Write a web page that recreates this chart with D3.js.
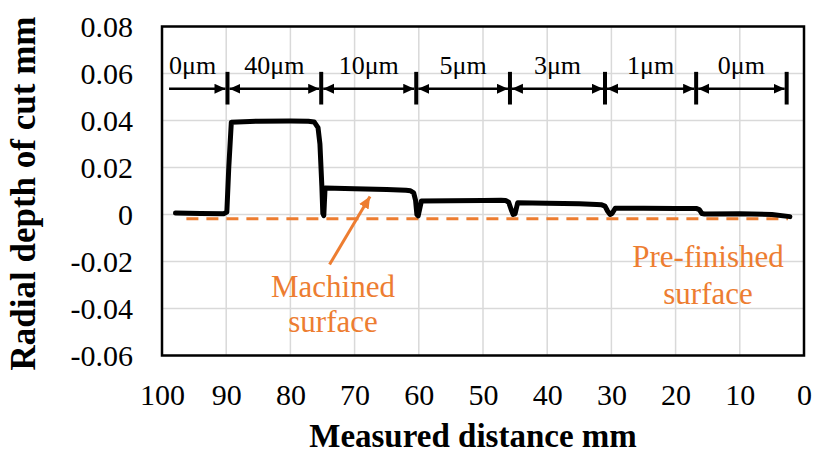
<!DOCTYPE html>
<html>
<head>
<meta charset="utf-8">
<script src="https://cdn.jsdelivr.net/npm/d3@7"></script>
<style>
  html, body { margin: 0; padding: 0; background: #fff; }
  svg { display: block; }
  text { font-family: "Liberation Serif", "Times New Roman", serif; }
</style>
</head>
<body>
<svg id="chart" width="814" height="453"></svg>
<script>
// ---- data ----
const xTicks = [100, 90, 80, 70, 60, 50, 40, 30, 20, 10, 0];
const yTicks = [-0.06, -0.04, -0.02, 0, 0.02, 0.04, 0.06, 0.08];
const yTickLabels = ["-0.06", "-0.04", "-0.02", "0", "0.02", "0.04", "0.06", "0.08"];

const distance = [97.9, 94, 90.4, 89.9, 89.6, 89.2, 85, 80, 77.2, 76.3, 75.7, 75.4, 75.1, 74.95, 74.8, 74.6,
  70, 65, 62, 61.3, 60.8, 60.5, 60.3, 60.1, 59.6, 55, 50, 47.2, 46.5, 46.0, 45.6, 45.3, 45.0, 44.6,
  40, 35, 32.3, 31.6, 31.0, 30.6, 30.2, 29.9, 29.4, 25, 20, 16.8, 16.3, 15.9, 15.5, 10, 5, 2.2];
const depth = [0.0006, 0.0004, 0.0003, 0.001, 0.02, 0.0393, 0.0397, 0.0398, 0.0397, 0.0394, 0.037, 0.03, 0.012, 0.0005, -0.0005, 0.0113,
  0.011, 0.0106, 0.0103, 0.0101, 0.0092, 0.006, 0.0, -0.0006, 0.0057, 0.0059, 0.006, 0.0061, 0.006, 0.0052, 0.002, 0.0, 0.0003, 0.005,
  0.0048, 0.0046, 0.0043, 0.0042, 0.0036, 0.0015, 0.0, 0.0004, 0.0027, 0.0027, 0.0026, 0.0026, 0.0021, 0.0004, 0.0002, 0.0003, 0.0, -0.0009];

const preFinishedDistance = [96.2, 2.5];
const preFinishedDepth = [-0.0018, -0.0018];

const segmentBounds = [98.9, 89.8, 75.2, 60.4, 45.8, 31.0, 16.8, 2.7];
const segmentLabels = ["0μm", "40μm", "10μm", "5μm", "3μm", "1μm", "0μm"];

// ---- layout ----
const svg = d3.select("#chart");
const x = d3.scaleLinear().domain([100, 0]).range([162, 804]);
const y = d3.scaleLinear().domain([-0.06, 0.08]).range([355.5, 26.5]);
const orange = "#ED7D31";

// gridlines
const grid = svg.append("g");
grid.selectAll("line.v").data(xTicks).join("line")
  .attr("x1", d => x(d)).attr("x2", d => x(d))
  .attr("y1", y(0.08)).attr("y2", y(-0.06))
  .attr("stroke", "#d9d9d9").attr("stroke-width", 1.5);
grid.selectAll("line.h").data(yTicks).join("line")
  .attr("x1", x(100)).attr("x2", x(0))
  .attr("y1", d => y(d)).attr("y2", d => y(d))
  .attr("stroke", "#d9d9d9").attr("stroke-width", 1.5);

// axes (labels only, domain hidden)
const xAxis = svg.append("g").attr("transform", `translate(0,${y(-0.06)})`)
  .call(d3.axisBottom(x).tickValues(xTicks).tickSize(0).tickPadding(28).tickFormat(d3.format("d")));
xAxis.select(".domain").remove();
xAxis.attr("font-family", null);
xAxis.selectAll("text").attr("font-size", 30).attr("fill", "#000")
  .style("font-family", "'Liberation Serif', serif");

const yAxis = svg.append("g").attr("transform", `translate(${x(100)},0)`)
  .call(d3.axisLeft(y).tickValues(yTicks).tickSize(0).tickPadding(29).tickFormat((d, i) => yTickLabels[i]));
yAxis.select(".domain").remove();
yAxis.attr("font-family", null);
yAxis.selectAll("text").attr("font-size", 30).attr("fill", "#000")
  .style("font-family", "'Liberation Serif', serif");

// plot border
svg.append("rect")
  .attr("x", x(100)).attr("y", y(0.08))
  .attr("width", x(0) - x(100)).attr("height", y(-0.06) - y(0.08))
  .attr("fill", "none").attr("stroke", "#000").attr("stroke-width", 2.5);

// pre-finished dashed line
svg.append("path")
  .datum(preFinishedDistance.map((d, i) => [d, preFinishedDepth[i]]))
  .attr("d", d3.line().x(d => x(d[0])).y(d => y(d[1])))
  .attr("stroke", orange).attr("stroke-width", 3).attr("stroke-dasharray", "12,8")
  .attr("fill", "none");

// profile
svg.append("path")
  .datum(distance.map((d, i) => [d, depth[i]]))
  .attr("d", d3.line().x(d => x(d[0])).y(d => y(d[1])))
  .attr("stroke", "#000").attr("stroke-width", 5)
  .attr("stroke-linejoin", "round").attr("stroke-linecap", "round")
  .attr("fill", "none");

// markers
const defs = svg.append("defs");
defs.append("marker").attr("id", "ah").attr("markerUnits", "userSpaceOnUse")
  .attr("markerWidth", 12).attr("markerHeight", 11).attr("refX", 11).attr("refY", 5)
  .attr("orient", "auto-start-reverse")
  .append("path").attr("d", "M0,0 L11,5 L0,10 Z").attr("fill", "#000");
defs.append("marker").attr("id", "oah").attr("markerUnits", "userSpaceOnUse")
  .attr("markerWidth", 14).attr("markerHeight", 12).attr("refX", 12).attr("refY", 5.5)
  .attr("orient", "auto")
  .append("path").attr("d", "M0,0 L12,5.5 L0,11 Z").attr("fill", orange);

// segment dimension arrows
const arrowY = y(0.0535);
const segs = svg.append("g");
segs.selectAll("line.bar").data(segmentBounds.slice(1)).join("line")
  .attr("x1", d => x(d)).attr("x2", d => x(d))
  .attr("y1", y(0.0607)).attr("y2", y(0.0468))
  .attr("stroke", "#000").attr("stroke-width", 4);
segmentLabels.forEach((lab, i) => {
  const a = segmentBounds[i], b = segmentBounds[i + 1];
  const line = segs.append("line")
    .attr("x1", x(a) + (i === 0 ? 0 : 2)).attr("x2", x(b) - 2)
    .attr("y1", arrowY).attr("y2", arrowY)
    .attr("stroke", "#000").attr("stroke-width", 2.5)
    .attr("marker-end", "url(#ah)");
  if (i > 0) line.attr("marker-start", "url(#ah)");
  segs.append("text")
    .attr("x", i === 0 ? x(a) : (x(a) + x(b)) / 2)
    .attr("y", y(0.06) + 0.5)
    .attr("text-anchor", i === 0 ? "start" : "middle")
    .attr("font-size", 26).attr("fill", "#000")
    .text(lab);
});

// annotations
svg.append("line")
  .attr("x1", x(73.9)).attr("y1", y(-0.0213))
  .attr("x2", x(67.6)).attr("y2", y(0.0077))
  .attr("stroke", orange).attr("stroke-width", 3)
  .attr("marker-end", "url(#oah)");

const ann = svg.append("g").attr("fill", orange).attr("font-size", 31).attr("text-anchor", "middle");
ann.append("text").attr("x", 333).attr("y", 297).text("Machined");
ann.append("text").attr("x", 333).attr("y", 332).text("surface");
ann.append("text").attr("x", 708).attr("y", 267).text("Pre-finished");
ann.append("text").attr("x", 708).attr("y", 304).text("surface");

// axis titles
svg.append("text")
  .attr("x", 473).attr("y", 447)
  .attr("text-anchor", "middle").attr("font-size", 33).attr("font-weight", "bold")
  .text("Measured distance mm");
svg.append("text")
  .attr("transform", "translate(35,193.5) rotate(-90)")
  .attr("text-anchor", "middle").attr("font-size", 35).attr("font-weight", "bold")
  .text("Radial depth of cut mm");
</script>
</body>
</html>
